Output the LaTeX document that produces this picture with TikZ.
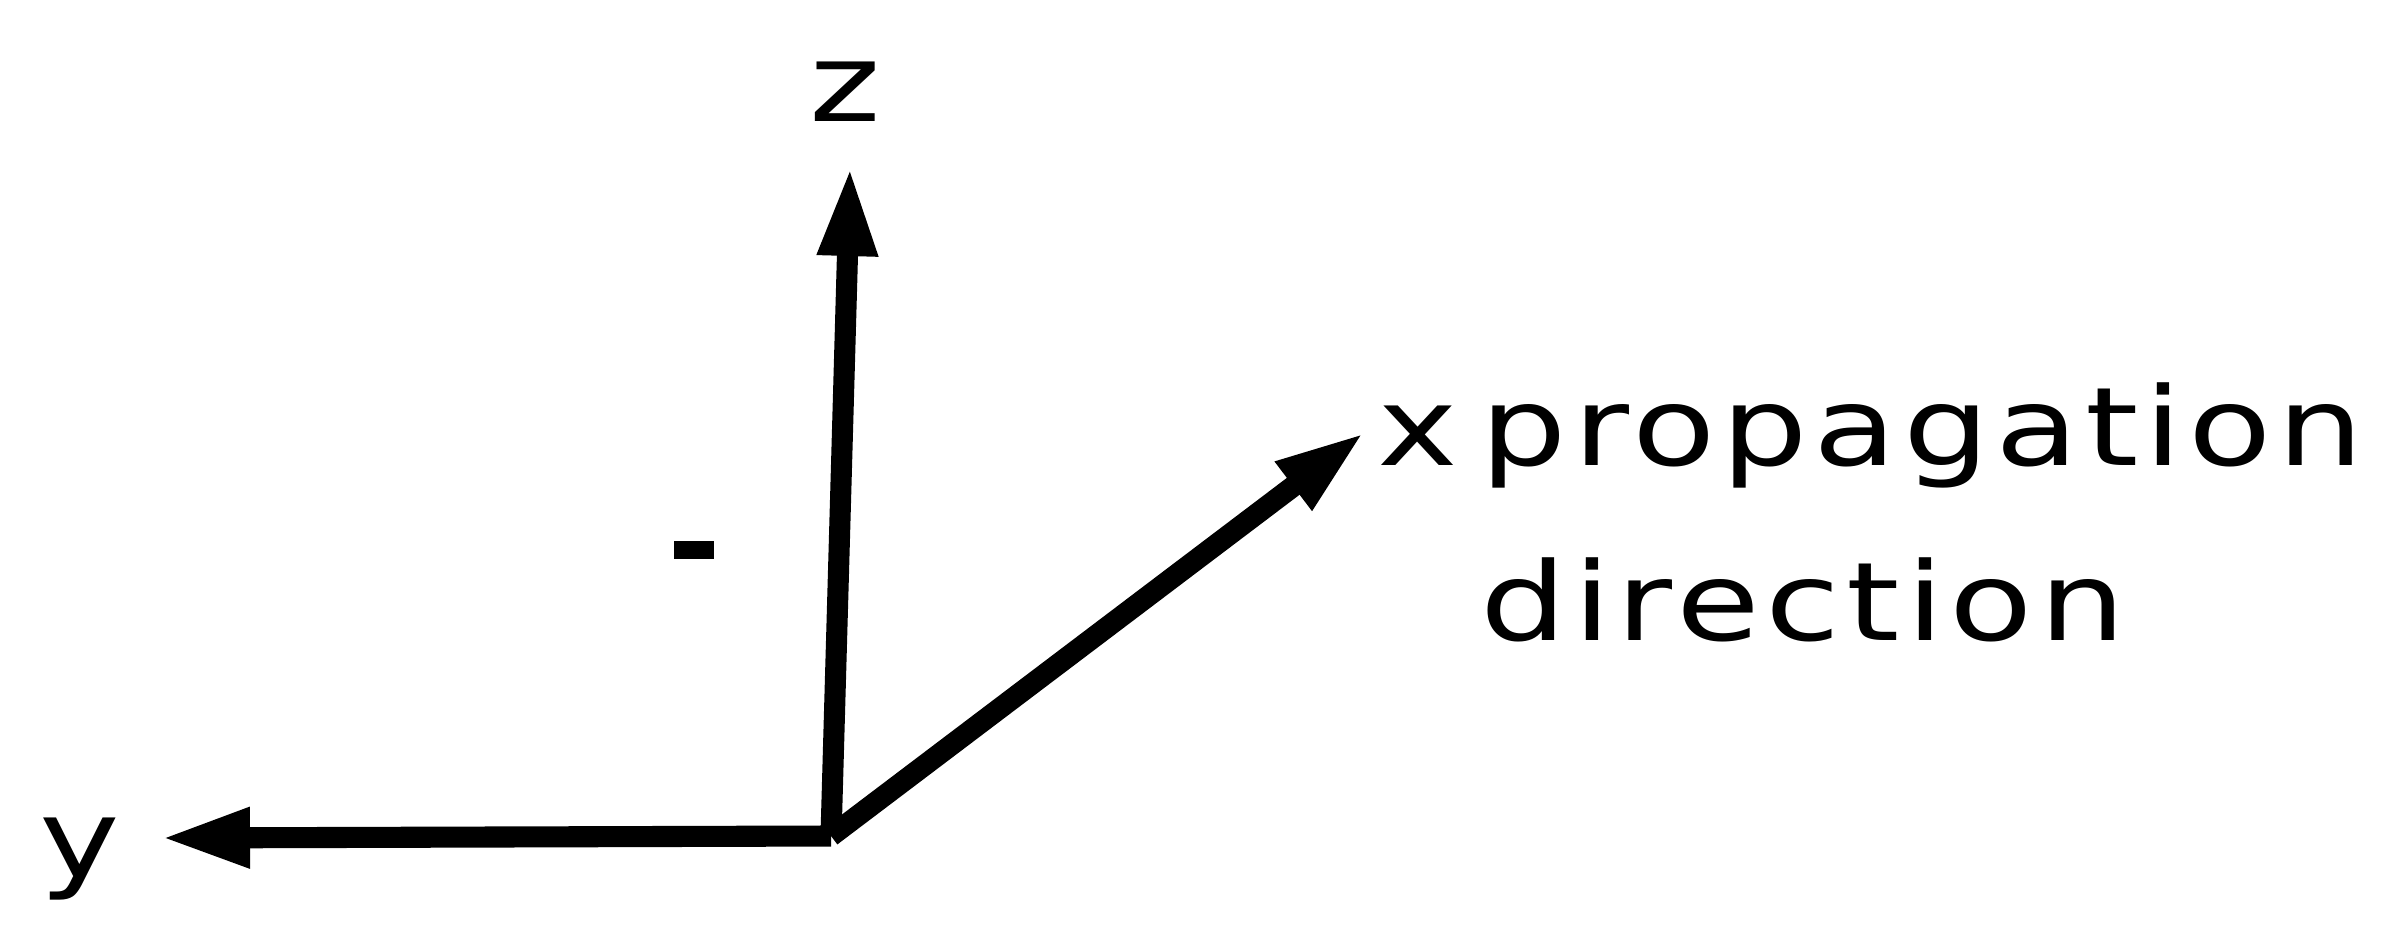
\documentclass[tikz,border=0pt]{standalone}
\usepackage{fontspec}
\setmainfont{DejaVu Sans}[FakeStretch=1.25,LetterSpace=5.5]
\usetikzlibrary{arrows.meta}

\begin{document}
\begin{tikzpicture}[
    axis/.style={line width=6pt, -{Triangle[length=0.9cm,width=0.55cm]}},
    lbl/.style={font=\fontsize{31}{40}\selectfont, inner sep=0pt}]
    \useasboundingbox (0,0) rectangle (23.91,9.46);

    % Origin and axis tips
    \coordinate (O) at (8.31,1.10);
    \coordinate (ztip) at (8.50,7.80);
    \coordinate (ytip) at (1.60,1.08);
    \coordinate (xtip) at (13.65,5.14);

    % Axes
    \draw[axis] (O) -- (ztip);
    \draw[axis] (O) -- (ytip);
    \draw[axis] (O) -- (xtip);

    % Small tick left of the z axis
    \draw[line width=5pt] (6.74,3.96) coordinate (tickl) -- (7.14,3.96) coordinate (tickr);

    % Labels
    \node[lbl, anchor=base] (zlab) at (8.45,8.24) {z};
    \node[lbl, anchor=base] (ylab) at (0.80,0.69) {y};
    \node[lbl, anchor=base] (xlab) at (14.18,4.81) {x};
    \node[lbl, anchor=base west] (prop) at (14.80,4.81) {propagation};
    \node[lbl, anchor=base west] (dir) at ([yshift=-1.75cm]prop.base west) {direction};
\end{tikzpicture}
\end{document}
